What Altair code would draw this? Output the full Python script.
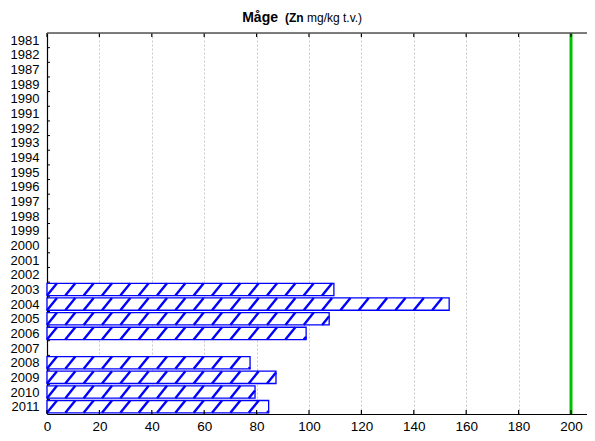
import altair as alt
import pandas as pd
import numpy as np

years = ["1981", "1982", "1987", "1989", "1990", "1991", "1992", "1993", "1994",
         "1995", "1996", "1997", "1998", "1999", "2000", "2001", "2002", "2003",
         "2004", "2005", "2006", "2007", "2008", "2009", "2010", "2011"]
bar_years = ["2003", "2004", "2005", "2006", "2008", "2009", "2010", "2011"]
bar_values = [109.5, 153.5, 107.7, 98.9, 77.5, 87.4, 79.4, 84.6]
x_ticks = [0, 20, 40, 60, 80, 100, 120, 140, 160, 180, 200]
limit_value = [200]

HALF = 0.42      # half bar thickness in row units
SPACING = 7.0    # hatch spacing in data units
RUN = 3.8        # horizontal run of one hatch stroke

idx = {y: i for i, y in enumerate(years)}
bars = pd.DataFrame({
    "year": bar_years,
    "value": bar_values,
})
bars["i"] = bars["year"].map(idx)
bars["y0"] = bars["i"] - HALF
bars["y1"] = bars["i"] + HALF
bars["zero"] = 0.0

# hatch segments derived from the bar values
segs = []
for yr, v in zip(bar_years, bar_values):
    i = idx[yr]
    yb, yt = i + HALF, i - HALF
    for k in range(-1, int(v / SPACING) + 2):
        x0 = k * SPACING
        tmin = max(0.0, (0 - x0) / RUN)
        tmax = min(1.0, (v - x0) / RUN)
        if tmax <= tmin:
            continue
        segs.append({
            "x": x0 + tmin * RUN, "x2": x0 + tmax * RUN,
            "y": yb + tmin * (yt - yb), "y2": yb + tmax * (yt - yb),
        })
hatch = pd.DataFrame(segs)

W, H = 540, 381
XMAX = W / 2.62

xscale = alt.Scale(domain=[0, XMAX], nice=False, zero=False)
yscale = alt.Scale(domain=[-0.5, len(years) - 0.5], reverse=True, nice=False, zero=False)

label_expr = "[" + ",".join("'" + y + "'" for y in years) + "][datum.value]"

x_axis = alt.Axis(values=x_ticks, title=None, grid=True, gridColor="#c8c8c8",
                  gridDash=[2, 2], gridWidth=1, domainColor="#000000",
                  domainWidth=1.2, tickSize=0, labelFontSize=13.5,
                  labelFont="Liberation Sans", labelColor="#000000",
                  labelPadding=5, labelFlush=False, labelOverlap=False)
y_axis = alt.Axis(values=list(range(len(years))), labelExpr=label_expr, title=None,
                  grid=False, domainColor="#000000", domainWidth=1.2, tickSize=0,
                  labelFontSize=13, labelFont="Liberation Sans", labelColor="#000000",
                  labelPadding=8, labelOverlap=False, labelBound=False)

base_axes = alt.Chart(bars).mark_rect(fill="white", stroke="#0000ff", strokeWidth=1.3).encode(
    x=alt.X("zero:Q", scale=xscale, axis=x_axis),
    x2="value:Q",
    y=alt.Y("y0:Q", scale=yscale, axis=y_axis),
    y2="y1:Q",
)

hatch_layer = alt.Chart(hatch).mark_rule(color="#0000ff", strokeWidth=2.4).encode(
    x=alt.X("x:Q", scale=xscale, axis=x_axis), x2="x2:Q",
    y=alt.Y("y:Q", scale=yscale, axis=y_axis), y2="y2:Q",
)

limit = alt.Chart(pd.DataFrame({"v": limit_value})).mark_rule(color="#00c000", strokeWidth=3).encode(
    x=alt.X("v:Q", scale=xscale, axis=x_axis)
)

ticks_df = pd.DataFrame({"t": x_ticks})
ticks_bottom = alt.Chart(ticks_df).mark_rule(color="#000000", strokeWidth=1.2).encode(
    x=alt.X("t:Q", scale=xscale, axis=x_axis), y=alt.value(H), y2=alt.value(H - 4)
)
ticks_top = alt.Chart(ticks_df).mark_rule(color="#000000", strokeWidth=1.2).encode(
    x=alt.X("t:Q", scale=xscale, axis=x_axis), y=alt.value(0), y2=alt.value(4)
)
ytick_df = pd.DataFrame({"b": [i + 0.5 for i in range(len(years) - 1)]})
ticks_left = alt.Chart(ytick_df).mark_rule(color="#000000", strokeWidth=1).encode(
    y=alt.Y("b:Q", scale=yscale, axis=y_axis), x=alt.value(0), x2=alt.value(3)
)
frame_top = alt.Chart(pd.DataFrame({"a": [0]})).mark_rule(color="#555555", strokeWidth=1.5).encode(
    x=alt.value(0), x2=alt.value(W), y=alt.value(0)
)

title_df = pd.DataFrame({"a": [0]})
t1 = alt.Chart(title_df).mark_text(text="Måge", fontWeight="bold", fontSize=14,
                                   font="Liberation Sans", align="right", baseline="alphabetic",
                                   color="#000000").encode(x=alt.value(231), y=alt.value(-11))
t2 = alt.Chart(title_df).mark_text(text="(Zn", fontWeight="bold", fontSize=12,
                                   font="Liberation Sans", align="left", baseline="alphabetic",
                                   color="#000000").encode(x=alt.value(238), y=alt.value(-11))
t3 = alt.Chart(title_df).mark_text(text="mg/kg t.v.)", fontSize=12,
                                   font="Liberation Sans", align="left", baseline="alphabetic",
                                   color="#000000").encode(x=alt.value(260), y=alt.value(-11))

chart = alt.layer(base_axes, hatch_layer, limit, ticks_bottom, ticks_top, ticks_left, frame_top,
                  t1, t2, t3).properties(
    width=W, height=H,
    autosize=alt.AutoSizeParams(type="none"),
    padding={"left": 39, "top": 25, "right": 0, "bottom": 19},
).configure_view(stroke=None).configure(background="white")

chart.save("out.html", embed_options={"renderer": "svg", "actions": False})
